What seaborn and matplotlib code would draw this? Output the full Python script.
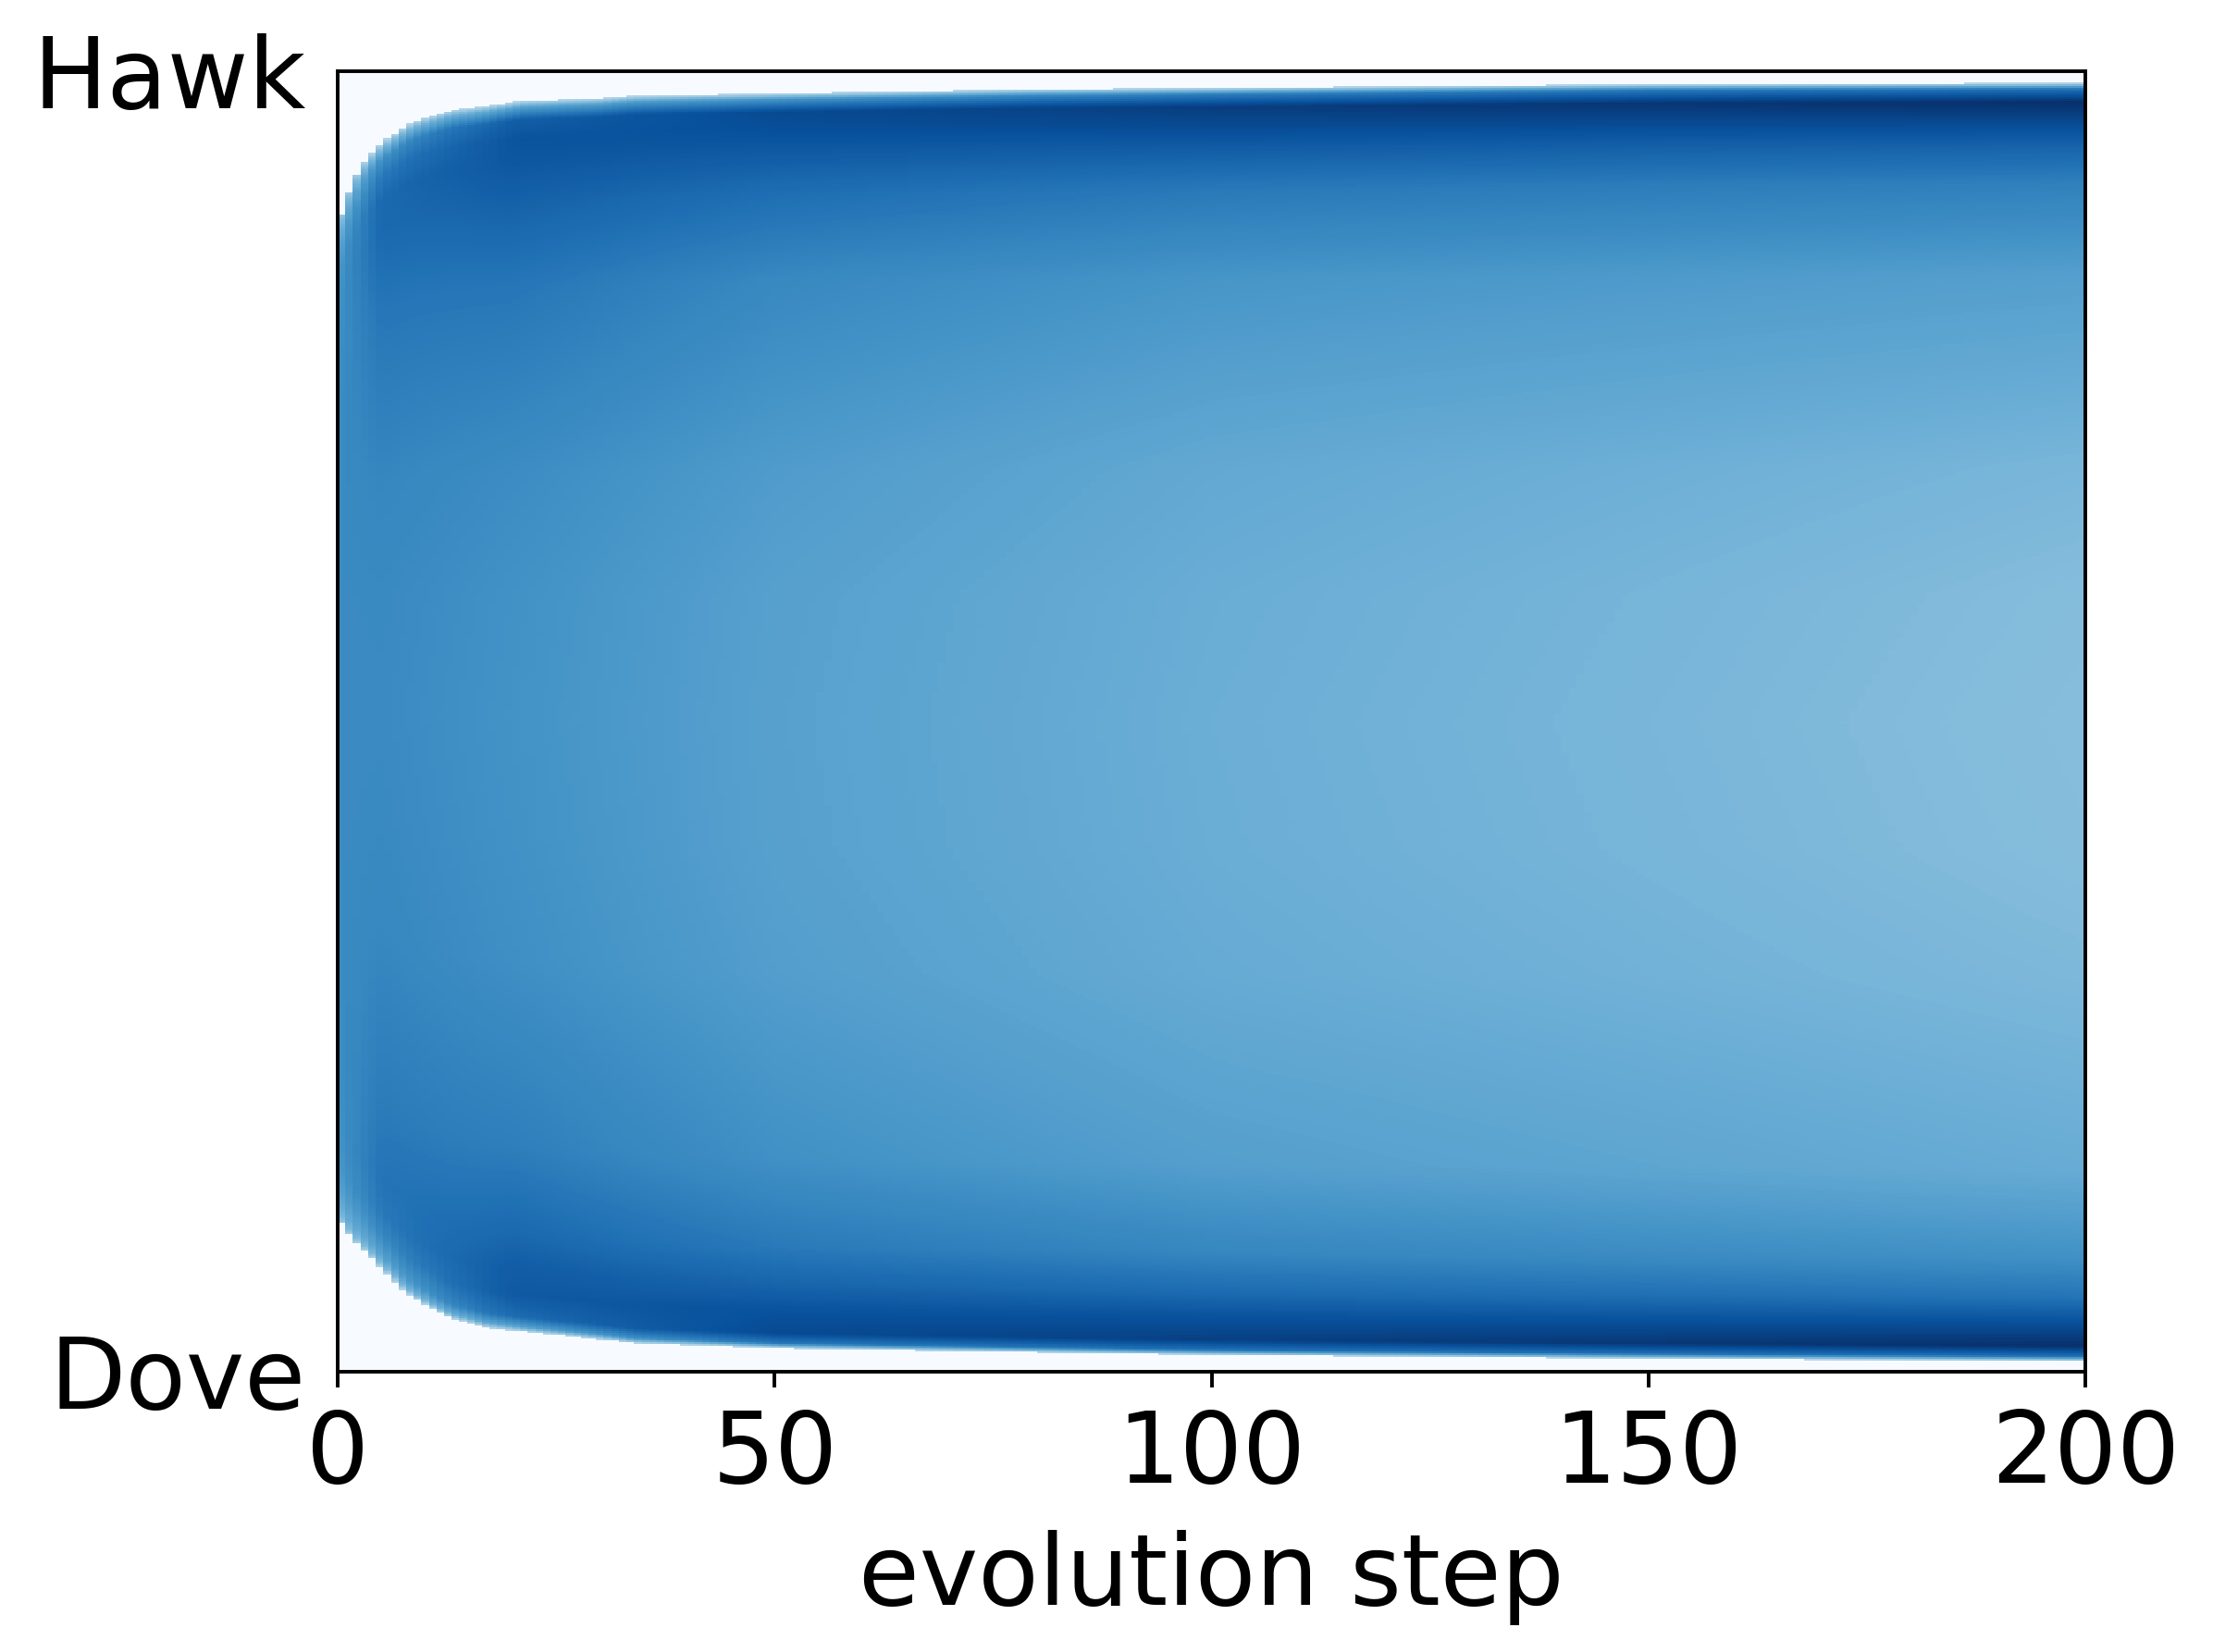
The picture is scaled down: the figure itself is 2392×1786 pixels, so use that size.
import numpy as np
import matplotlib
matplotlib.use("Agg")
import matplotlib.pyplot as plt
import seaborn as sns

# ---- data ----
n_steps = 200          # evolution steps on x axis
n_cols = 230           # histogram columns across the x range
n_rows = 700           # strategy bins between Dove (0) and Hawk (1)

# envelope of the occupied strategy range (fraction of axis, 0 = Dove, 1 = Hawk)
env_steps = [0, 0.87, 1.74, 2.6, 3.47, 4.34, 5.2, 6.1, 6.9, 7.8, 8.7, 10.4, 13, 17,
             21, 25.5, 30, 34, 42.5, 51, 80, 100, 150, 200]
env_top = [0.881, 0.900, 0.914, 0.926, 0.933, 0.940, 0.946, 0.950, 0.954, 0.958,
           0.961, 0.965, 0.970, 0.973, 0.977, 0.978, 0.979, 0.981, 0.982, 0.983,
           0.986, 0.987, 0.990, 0.991]
env_bottom = [0.119, 0.110, 0.102, 0.096, 0.090, 0.084, 0.077, 0.072, 0.066, 0.061,
              0.057, 0.050, 0.041, 0.034, 0.031, 0.028, 0.025, 0.022, 0.020, 0.018,
              0.015, 0.013, 0.010, 0.008]

# density profile across the occupied range (u: 0 = lower edge, 1 = upper edge)
profile_u = [0, 0.004, 0.012, 0.03, 0.05, 0.08, 0.15, 0.3, 0.4, 0.5, 0.6, 0.7, 0.85,
             0.92, 0.95, 0.97, 0.985, 0.995, 1.0]
profile_steps = [0, 5, 20, 50, 100, 200]
profile_step0 = [0.40, 0.45, 0.50, 0.56, 0.60, 0.62, 0.64, 0.65, 0.65, 0.65, 0.65, 0.65, 0.64, 0.62, 0.60, 0.56, 0.50, 0.45, 0.40]
profile_step5 = [0.30, 0.45, 0.56, 0.66, 0.72, 0.74, 0.71, 0.665, 0.655, 0.65, 0.655, 0.67, 0.73, 0.78, 0.78, 0.72, 0.63, 0.45, 0.30]
profile_step20 = [0.30, 0.56, 0.77, 0.84, 0.83, 0.78, 0.70, 0.635, 0.625, 0.62, 0.625, 0.645, 0.73, 0.81, 0.85, 0.86, 0.82, 0.56, 0.30]
profile_step50 = [0.30, 0.72, 0.90, 0.87, 0.80, 0.72, 0.63, 0.575, 0.563, 0.56, 0.564, 0.585, 0.66, 0.76, 0.83, 0.88, 0.90, 0.62, 0.30]
profile_step100 = [0.30, 0.75, 0.94, 0.87, 0.77, 0.67, 0.57, 0.515, 0.503, 0.50, 0.505, 0.525, 0.61, 0.72, 0.82, 0.90, 0.95, 0.70, 0.30]
profile_step200 = [0.30, 0.75, 1.00, 0.88, 0.74, 0.63, 0.51, 0.455, 0.435, 0.43, 0.437, 0.465, 0.57, 0.69, 0.80, 0.91, 1.00, 0.75, 0.30]

x_ticks = [0, 50, 100, 150, 200]
y_labels = ["Hawk", "Dove"]
x_label = "evolution step"

# ---- build the density matrix ----
profiles = np.array([profile_step0, profile_step5, profile_step20,
                     profile_step50, profile_step100, profile_step200])
y_centers = 1.0 - (np.arange(n_rows) + 0.5) / n_rows
density = np.zeros((n_rows, n_cols))
for j in range(n_cols):
    s = (j + 0.5) * n_steps / n_cols
    top = np.interp(s, env_steps, env_top)
    bot = np.interp(s, env_steps, env_bottom)
    prof = [np.interp(s, profile_steps, profiles[:, k]) for k in range(len(profile_u))]
    inside = (y_centers >= bot) & (y_centers <= top)
    u = (y_centers[inside] - bot) / (top - bot)
    density[inside, j] = np.interp(u, profile_u, prof)

# ---- plot ----
plt.rcParams['font.family'] = ['DejaVu Sans']
fig = plt.figure(figsize=(2392 / 350, 1786 / 350), dpi=350)
ax = fig.add_axes([0.1526, 0.1697, 0.7897, 0.7872])
sns.heatmap(density, cmap="Blues", vmin=0, vmax=1, cbar=False,
            xticklabels=False, yticklabels=False, ax=ax, rasterized=True)

ax.set_xticks([t * n_cols / n_steps for t in x_ticks])
ax.set_xticklabels([str(t) for t in x_ticks], fontsize=22, rotation=0)
ax.set_yticks([0, n_rows])
ax.set_yticklabels(y_labels, fontsize=22, rotation=0, va="center_baseline")
ax.tick_params(axis="x", length=3.5, width=0.8, pad=4.5)
ax.tick_params(axis="y", length=0, pad=7)
ax.set_xlabel(x_label, fontsize=22, labelpad=6)
ax.set_ylabel("")
for sp in ax.spines.values():
    sp.set_visible(True)
    sp.set_linewidth(0.8)
    sp.set_color("black")

fig.savefig("out.png", dpi=350)
